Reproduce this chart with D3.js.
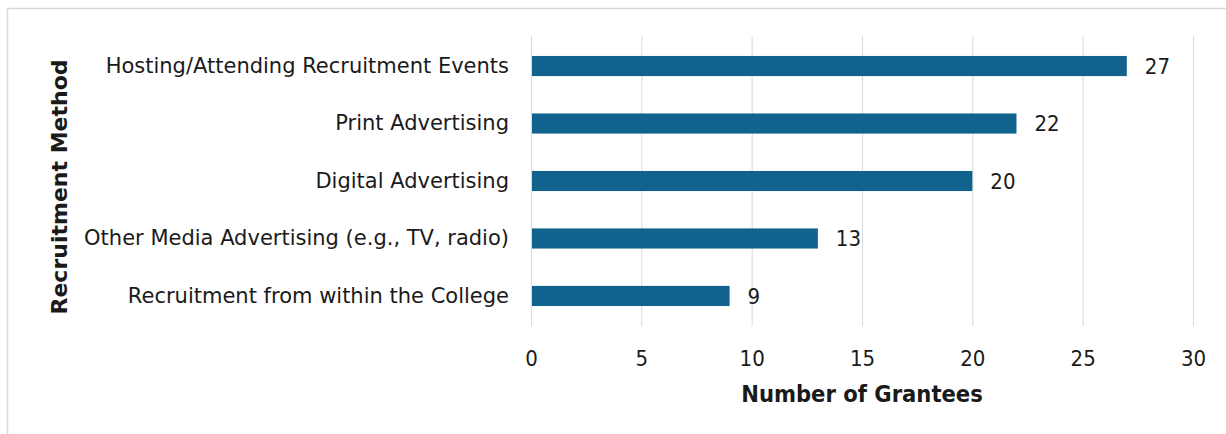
<!DOCTYPE html>
<html>
<head>
<meta charset="utf-8">
<script src="https://cdn.jsdelivr.net/npm/d3@7"></script>
<style>
  html, body { margin: 0; padding: 0; background: #fff; }
  svg { display: block; }
  text { fill: #1a1a1a; }
</style>
</head>
<body>
<svg id="chart" width="1226" height="434"></svg>
<script>
const categories = [
  "Hosting/Attending Recruitment Events",
  "Print Advertising",
  "Digital Advertising",
  "Other Media Advertising (e.g., TV, radio)",
  "Recruitment from within the College"
];
const values = [27, 22, 20, 13, 9];
const xTicks = [0, 5, 10, 15, 20, 25, 30];

const svg = d3.select("#chart");
const W = 1226, H = 434;
const SANS = '"DejaVu Sans", sans-serif';
const COND = '"DejaVu Sans Condensed", "DejaVu Sans", sans-serif';

// frame lines along top and left
svg.append("line").attr("x1", 7.5).attr("x2", W).attr("y1", 8.5).attr("y2", 8.5)
  .attr("stroke", "#d9d9d9").attr("stroke-width", 1.5);
svg.append("line").attr("x1", 7.5).attr("x2", 7.5).attr("y1", 8.5).attr("y2", H)
  .attr("stroke", "#d9d9d9").attr("stroke-width", 1.5);

const plotLeft = 531, plotRight = 1193, plotTop = 37, plotBottom = 325;

const x = d3.scaleLinear().domain([0, 30]).range([plotLeft, plotRight]);
const y = d3.scaleBand().domain(categories).range([plotTop, plotBottom]).paddingInner(0.65).paddingOuter(0.33);

// vertical gridlines
svg.append("g").selectAll("line").data(xTicks).join("line")
  .attr("x1", d => x(d) + 0.5).attr("x2", d => x(d) + 0.5)
  .attr("y1", plotTop - 1).attr("y2", plotBottom + 1)
  .attr("stroke", "#d9d9d9").attr("stroke-width", 1);

// x axis tick labels
const xAxis = d3.axisBottom(x).tickValues(xTicks).tickSize(0).tickPadding(0);
const gx = svg.append("g").attr("transform", "translate(0, 366)").call(xAxis);
gx.select(".domain").remove();
gx.selectAll("text").attr("y", 0).attr("dy", 0)
  .attr("font-size", 22).style("font-family", COND).attr("fill", "#1a1a1a");

// category labels
const yAxis = d3.axisLeft(y).tickSize(0).tickPadding(22);
const gy = svg.append("g").attr("transform", `translate(${plotLeft}, 0)`).call(yAxis);
gy.select(".domain").remove();
gy.selectAll("text").attr("font-size", 21).style("font-family", SANS).attr("fill", "#1a1a1a");

// bars
svg.append("g").selectAll("rect").data(values).join("rect")
  .attr("x", x(0) + 1)
  .attr("y", (d, i) => y(categories[i]))
  .attr("width", d => x(d) - x(0) - 1)
  .attr("height", y.bandwidth())
  .attr("fill", "#11628c");

// value labels
svg.append("g").selectAll("text").data(values).join("text")
  .attr("x", d => x(d) + 18)
  .attr("y", (d, i) => y(categories[i]) + y.bandwidth() / 2)
  .attr("dy", "0.36em")
  .attr("font-size", 22)
  .style("font-family", COND)
  .text(d => d);

// axis titles
svg.append("text")
  .attr("x", 862).attr("y", 402)
  .attr("text-anchor", "middle")
  .attr("font-size", 23.5).attr("font-weight", "bold")
  .style("font-family", COND)
  .text("Number of Grantees");

svg.append("text")
  .attr("transform", "translate(67, 187) rotate(-90)")
  .attr("text-anchor", "middle")
  .attr("font-size", 22).attr("font-weight", "bold")
  .style("font-family", SANS)
  .text("Recruitment Method");
</script>
</body>
</html>
